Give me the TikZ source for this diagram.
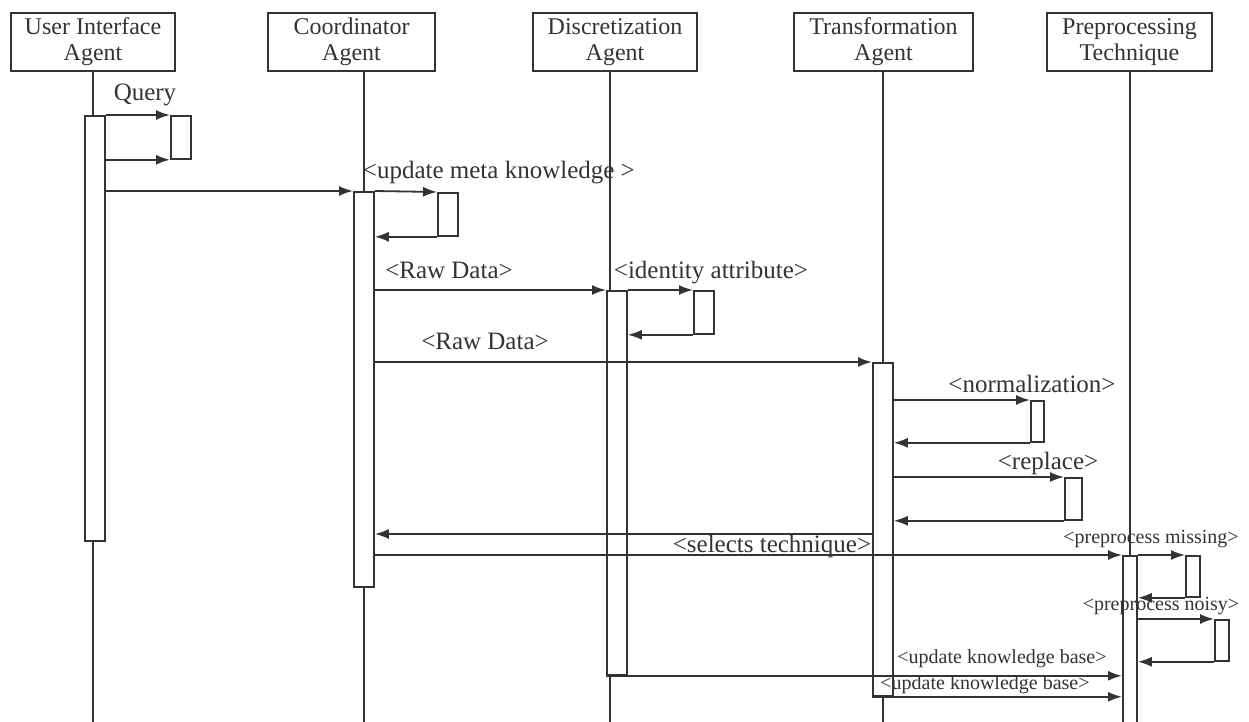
\documentclass[tikz,border=0pt]{standalone}
\usepackage{fontspec}
\setmainfont{Liberation Serif}
\usetikzlibrary{
  positioning,
  arrows.meta
}
\tikzset{>={Latex[length=7pt,width=5pt]}}

\begin{document}
\begin{tikzpicture}[x=0.5pt,y=-0.5pt,line width=0.9pt,color=black!80,
    agent/.style={draw,minimum height=29pt,align=center,inner sep=1pt,
      font=\fontsize{12}{13}\selectfont},
    act/.style={draw,fill=white,minimum width=10pt,inner sep=0pt,anchor=north west},
    selfbox/.style={draw,fill=white,minimum width=10pt,minimum height=21.5pt,inner sep=0pt,anchor=north west},
    lbl/.style={inner sep=1pt,font=\fontsize{12.5}{13}\selectfont},
    small/.style={inner sep=1pt,font=\fontsize{10}{11}\selectfont}]
			\useasboundingbox (0,0) rectangle (1249,722);
			\coordinate (bot) at (0,722);

			% lifeline heads
			\node[agent,minimum width=82pt] (ui) at (93,42) {User Interface\\Agent};
			\node[agent,minimum width=83.5pt] (co) at (351.5,42) {Coordinator\\Agent};
			\node[agent,minimum width=82pt] (di) at (615,42) {Discretization\\Agent};
			\node[agent,minimum width=89.5pt] (tr) at (883.5,42) {Transformation\\Agent};
			\node[agent,minimum width=82.5pt] (pr) at (1129.5,42) {Preprocessing\\Technique};

			% activations
			\node[act,minimum height=212.5pt] (uia) at (84,115) {};
			\node[act,minimum height=197.5pt] (coa) at (353,191) {};
			\node[act,minimum height=192pt] (dia) at (606,290) {};
			\node[act,minimum height=166.5pt] (tra) at (872,362) {};
			\node[act,minimum width=7pt,minimum height=83.5pt] (pra) at (1122,555) {};

			% lifelines
			\draw (ui.south) -- (ui.south |- uia.north);
			\draw (uia.south -| ui.south) -- (ui.south |- bot);
			\draw (co.south -| coa.north) -- (coa.north);
			\draw (coa.south) -- (coa.south |- bot);
			\draw ([xshift=-2.5pt]di.south) -- ([xshift=-2.5pt]di.south |- dia.north);
			\draw ([xshift=-2.5pt]dia.south -| di.south) -- ([xshift=-2.5pt]di.south |- bot);
			\draw (tr.south -| tra.north) -- (tra.north);
			\draw (tra.south) -- (tra.south |- bot);
			\draw (pr.south -| pra.north) -- (pra.north);

			% self calls
			\node[selfbox] (qbox) at (170,115) {};
			\node[selfbox] (mbox) at (437,192) {};
			\node[selfbox] (ibox) at (693,290) {};
			\node[selfbox,minimum width=6.5pt,minimum height=20.5pt] (nbox) at (1030,400) {};
			\node[selfbox,minimum width=8.5pt,minimum height=21pt] (rbox) at (1064,477) {};
			\node[selfbox,minimum width=7pt,minimum height=20.5pt] (pmbox) at (1185,555) {};
			\node[selfbox,minimum width=7pt,minimum height=20.5pt] (pnbox) at (1214,619) {};

			\draw[->] (uia.north east) -- (qbox.north west);
			\draw[->] (uia.east |- qbox.south west) -- (qbox.south west);
			\node[lbl] (query) at (145,95) {Query};

			\draw[->] (uia.east |- coa.north) -- (coa.north west);

			\draw[->] (coa.north east) -- (mbox.north west);
			\draw[->] (mbox.south west) -- (coa.east |- mbox.south west);
			\node[lbl,anchor=west] (meta) at (360,173) {<update meta knowledge >};

			\draw[->] (coa.east |- dia.north) -- (dia.north west);
			\node[lbl] (raw1) at (449,270) {<Raw Data>};

			\draw[->] (dia.north east) -- (ibox.north west);
			\draw[->] (ibox.south west) -- (dia.east |- ibox.south west);
			\node[lbl,anchor=west] (ident) at (611,273) {<identity attribute>};

			\draw[->] (coa.east |- tra.north) -- (tra.north west);
			\node[lbl] (raw2) at (485,341) {<Raw Data>};

			\draw[->] (tra.east |- nbox.north) -- (nbox.north west);
			\draw[->] (nbox.south west) -- (tra.east |- nbox.south west);
			\node[lbl] (norm) at (1032,384) {<normalization>};

			\draw[->] (tra.east |- rbox.north) -- (rbox.north west);
			\draw[->] (rbox.south west) -- (tra.east |- rbox.south west);
			\node[lbl] (repl) at (1048,463) {<replace>};

			\coordinate (back) at (0,534);
			\draw[->] (tra.west |- back) -- (coa.east |- back);

			\draw[->] (coa.east |- pra.north) -- (pra.north west);
			\node[lbl,anchor=east] (sel) at (874,546) {<selects technique>};

			\draw[->] (pra.north east) -- (pmbox.north west);
			\draw[->] (pmbox.south west) -- (pra.east |- pmbox.south west);
			\node[small] (pmiss) at (1151,539) {<preprocess missing>};

			\draw[->] (pra.east |- pnbox.north) -- (pnbox.north west);
			\draw[->] (pnbox.south west) -- (pra.east |- pnbox.south west);
			\node[small] (pnoisy) at (1161,606) {<preprocess noisy>};

			\draw[->] (dia.south west) -- (pra.west |- dia.south);
			\node[small] (kb1) at (1002,659) {<update knowledge base>};
			\draw[->] (tra.south west) -- (pra.west |- tra.south);
			\node[small] (kb2) at (985,685) {<update knowledge base>};
		\end{tikzpicture}
\end{document}
